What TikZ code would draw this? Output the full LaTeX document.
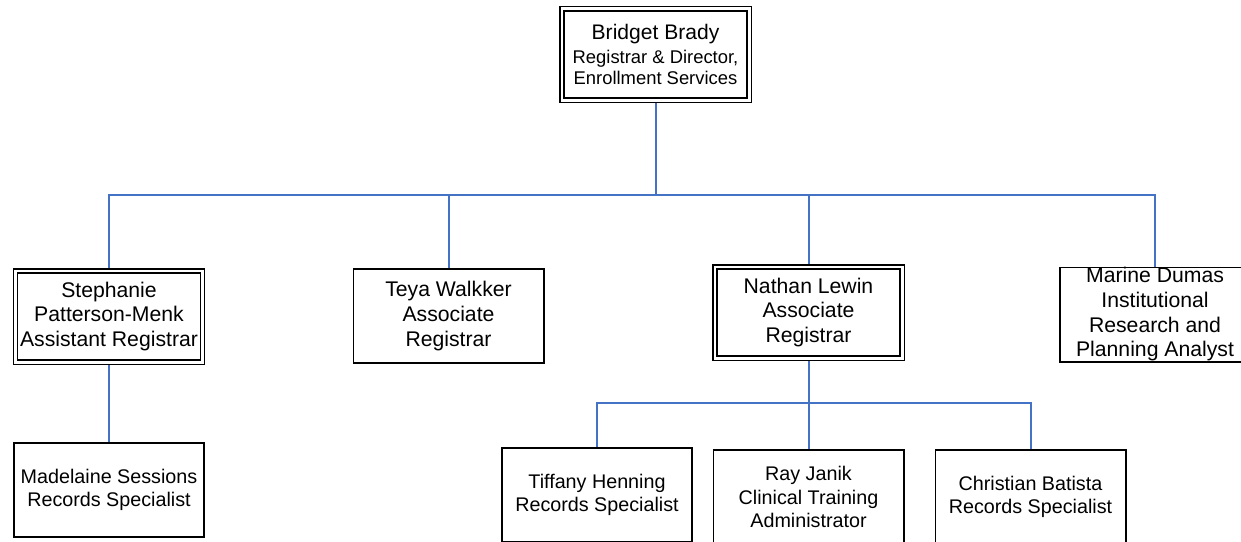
\documentclass[tikz,border=0pt]{standalone}
\usepackage{fontspec}
\setmainfont{Liberation Sans}
\usetikzlibrary{backgrounds}
\definecolor{linkblue}{RGB}{68,114,196}

\tikzset{every picture/.style={line width=0.75pt}}
\tikzset{
  person/.style={draw, line width=1.2pt, fill=white, inner sep=0pt, minimum width=142.8pt, minimum height=70.8pt, align=center, font=\fontsize{15.9}{18.5}\selectfont},
  staff/.style={person, font=\fontsize{14.8}{17.5}\selectfont},
  lead/.style={person, line width=1.1pt, double, double distance=2pt, minimum width=140.5pt, minimum height=68.5pt},
  link/.style={draw=linkblue, line width=1.5pt}
}

\begin{document}
\begin{tikzpicture}[x=0.75pt,y=0.75pt,yscale=-1,xscale=1]
\useasboundingbox (0,0) rectangle (1241,542);

%Bus levels
\coordinate (top) at (0,195);
\coordinate (sub) at (0,403);

%Shape: Director
\node[lead, font=\fontsize{13.8}{16.2}\selectfont] (bb) at (655.5,54.5) {{\fontsize{15.8}{18}\selectfont Bridget Brady}\\[2pt]Registrar \& Director,\\Enrollment Services};

%Shape: Second row
\node[lead] (sp) at (109,316.5) {Stephanie\\Patterson-Menk\\Assistant Registrar};
\node[person] (tw) at (448.5,316) {Teya Walkker\\Associate\\Registrar};
\node[lead] (nl) at (808.5,312.5) {Nathan Lewin\\Associate\\Registrar};
\node[person] (md) at (1155,314.5) {Marine Dumas\\Institutional\\Research and\\Planning Analyst};

%Shape: Third row
\node[staff] (ms) at (109,490) {Madelaine Sessions\\Records Specialist};
\node[staff] (th) at (597,495) {Tiffany Henning\\Records Specialist};
\node[staff] (rj) at (808.5,497) {Ray Janik\\Clinical Training\\Administrator};
\node[staff] (cb) at (1030.5,497) {Christian Batista\\Records Specialist};

%Straight Lines
\begin{pgfonlayer}{background}
\draw[link] (bb.south) -- (bb.south |- top) -| (sp.north);
\draw[link] (bb.south |- top) -| (md.north);
\draw[link] (tw.north) -- (tw.north |- top);
\draw[link] (nl.north) -- (nl.north |- top);
\draw[link] (sp.south) -- (ms.north);
\draw[link] (nl.south) -- (rj.north);
\draw[link] (th.north) -- (th.north |- sub) -| (cb.north);
\end{pgfonlayer}

\end{tikzpicture}
\end{document}
